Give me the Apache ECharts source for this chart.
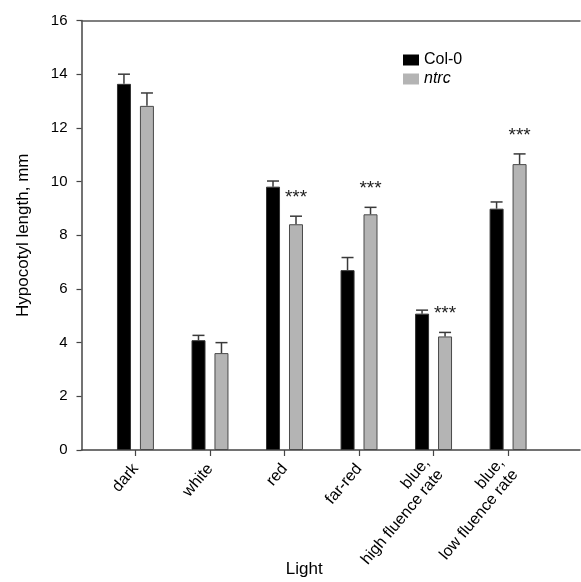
<!DOCTYPE html>
<html>
<head>
<meta charset="utf-8">
<script src="https://cdn.jsdelivr.net/npm/echarts@6/dist/echarts.min.js"></script>
<style>html,body{margin:0;padding:0;background:#fff;}#c{width:581px;height:582px;}</style>
</head>
<body>
<div id="c"></div>
<script>
var categories = ['dark', 'white', 'red', 'far-red', 'blue,\nhigh fluence rate', 'blue,\nlow fluence rate'];
var col0 = [13.64, 4.09, 9.81, 6.70, 5.08, 8.99];
var col0Err = [0.36, 0.18, 0.21, 0.47, 0.13, 0.25];
var ntrc = [12.82, 3.61, 8.41, 8.78, 4.23, 10.65];
var ntrcErr = [0.48, 0.39, 0.30, 0.26, 0.15, 0.38];
var sig = ['', '', '***', '***', '***', '***'];
var yTicks = [0, 2, 4, 6, 8, 10, 12, 14, 16];
var positions = [1, 2, 3, 4, 5, 6];

var OFF = 11.5;
function pairs(v){ return v.map(function(y,i){ return [positions[i], y]; }); }
function errData(v, e){ return v.map(function(y,i){ return [positions[i], y, y + e[i]]; }); }

function errRender(off){
  return function(params, api){
    var x = api.value(0);
    var p0 = api.coord([x, api.value(1)]);
    var p1 = api.coord([x, api.value(2)]);
    var cx = p0[0] + off;
    var hw = 6;
    return {
      type: 'group',
      children: [
        {type:'line', shape:{x1:cx, y1:p0[1], x2:cx, y2:p1[1]}, style:{stroke:'#3a3a3a', lineWidth:1.5}},
        {type:'line', shape:{x1:cx-hw, y1:p1[1], x2:cx+hw, y2:p1[1]}, style:{stroke:'#3a3a3a', lineWidth:1.5}}
      ]
    };
  };
}

var sigData = ntrc.map(function(y,i){ return [positions[i], y + ntrcErr[i], sig[i]]; });
var FF = 'Liberation Sans, Arial, sans-serif';

var chart = echarts.init(document.getElementById('c'));
chart.setOption({
  animation: false,
  backgroundColor: '#fff',
  textStyle: {fontFamily: FF, color: '#000'},
  grid: {left: 81.5, right: 1, top: 20.5, bottom: 132, outerBoundsMode: 'none', containLabel: false},
  legend: {
    orient: 'vertical', left: 398, top: 47, itemWidth: 16, itemHeight: 11, itemGap: 3,
    icon: 'rect',
    data: ['Col-0', 'ntrc'],
    itemStyle: {borderWidth: 0},
    textStyle: {fontSize: 16, color: '#000', fontFamily: FF,
      rich: {i: {fontStyle: 'italic', fontSize: 16, fontFamily: FF}}},
    formatter: function(n){ return n === 'ntrc' ? '{i|ntrc}' : n; }
  },
  xAxis: [{
    type: 'value', min: 0.276, max: 6.965, position: 'bottom',
    splitLine: {show: false},
    axisLine: {show: true, onZero: false, lineStyle: {color: '#444', width: 1.5}},
    axisTick: {show: true, customValues: positions, length: 6, lineStyle: {color: '#444', width: 1.2}},
    axisLabel: {customValues: positions, rotate: 50, fontSize: 16, color: '#000', margin: 16, lineHeight: 18,
      formatter: function(v){ return categories[Math.round(v) - 1]; }},
    name: 'Light', nameLocation: 'middle', nameGap: 111, nameMoveOverlap: false,
    nameTextStyle: {fontSize: 17, color: '#000', padding: [0, 53, 0, 0]}
  }, {
    type: 'value', min: 0.276, max: 6.965, position: 'top',
    splitLine: {show: false},
    axisLine: {show: true, onZero: false, lineStyle: {color: '#555', width: 1.5}},
    axisTick: {show: false}, axisLabel: {show: false}
  }],
  yAxis: {
    type: 'value', min: 0, max: 16, interval: 2,
    splitLine: {show: false},
    axisLine: {show: true, lineStyle: {color: '#444', width: 1.5}},
    axisTick: {show: true, length: 5, lineStyle: {color: '#444', width: 1.2}},
    axisLabel: {fontSize: 15, color: '#000', margin: 14},
    name: 'Hypocotyl length, mm', nameLocation: 'middle', nameGap: 50, nameMoveOverlap: false,
    nameTextStyle: {fontSize: 17, color: '#000'}
  },
  series: [
    {name: 'Col-0', type: 'bar', data: pairs(col0), barWidth: 14, barGap: '64%',
      itemStyle: {color: '#000', borderColor: '#333', borderWidth: 1}},
    {name: 'ntrc', type: 'bar', data: pairs(ntrc), barWidth: 14, barGap: '64%',
      itemStyle: {color: '#b4b4b4', borderColor: '#4a4a4a', borderWidth: 1}},
    {type: 'custom', data: errData(col0, col0Err), renderItem: errRender(-OFF), z: 5},
    {type: 'custom', data: errData(ntrc, ntrcErr), renderItem: errRender(OFF), z: 5},
    {type: 'custom', data: sigData, z: 6, renderItem: function(params, api){
      var p = api.coord([api.value(0), api.value(1)]);
      return {type: 'text', style: {text: sig[params.dataIndex], x: p[0] + OFF, y: p[1] - 9,
        align: 'center', verticalAlign: 'bottom', fontSize: 19, fill: '#222',
        fontFamily: FF}};
    }}
  ]
});
</script>
</body>
</html>
